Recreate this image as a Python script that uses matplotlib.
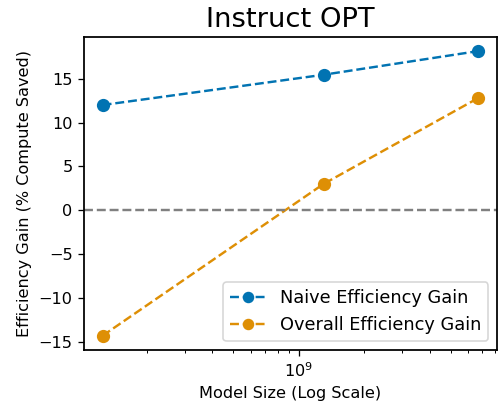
import matplotlib
matplotlib.use("Agg")
import matplotlib.pyplot as plt

# OPT model sizes (parameters)
model_sizes = [125e6, 1.3e9, 6.7e9]
naive_gain = [12.0, 15.45, 18.15]
overall_gain = [-14.3, 3.0, 12.8]

blue = "#0173b2"
orange = "#de8f05"

dpi = 116
fig, ax = plt.subplots(figsize=(499 / dpi, 405 / dpi), dpi=dpi)
ax.plot(model_sizes, naive_gain, "--o", color=blue, markersize=7.2, linewidth=1.5,
        label="Naive Efficiency Gain")
ax.plot(model_sizes, overall_gain, "--o", color=orange, markersize=7.2, linewidth=1.5,
        label="Overall Efficiency Gain")
ax.axhline(0, color="gray", linestyle="--", linewidth=1.5)
ax.set_xscale("log")
ax.set_title("Instruct OPT", fontsize=17)
ax.set_xlabel("Model Size (Log Scale)")
ax.set_ylabel("Efficiency Gain (% Compute Saved)")
ax.legend(loc="lower right", fontsize=11, markerscale=0.85)
for s in ax.spines.values():
    s.set_linewidth(1.1)
fig.subplots_adjust(left=0.168, right=0.996, top=0.909, bottom=0.136)
fig.savefig("out.png", dpi=dpi)
